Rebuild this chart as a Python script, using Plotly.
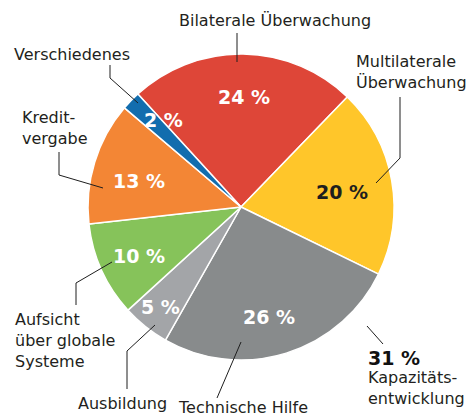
import math
import plotly.graph_objects as go

# ---- data ----
categories = ["Bilaterale Überwachung", "Multilaterale Überwachung", "Technische Hilfe",
              "Ausbildung", "Aufsicht über globale Systeme", "Kreditvergabe", "Verschiedenes"]
values = [24, 20, 26, 5, 10, 13, 2]
pct_labels = ["24 %", "20 %", "26 %", "5 %", "10 %", "13 %", "2 %"]
group_value = "31 %"
group_label = "Kapazitäts-<br>entwicklung"

# ---- style ----
colors = ["#DE4638", "#FFC62A", "#888B8C", "#A3A5A8", "#86C35A", "#F38635", "#126DAE"]
pct_colors = ["white", "#1E1E1E", "white", "white", "white", "white", "white"]
rad_frac = [0.72, 0.67, 0.74, 0.84, 0.74, 0.69, 0.76]
ang_tweak = [1, 1.5, 3, 0, -1, -3, 4.5]
ROT = -42.4

W, H = 474, 417
OFF = 8  # browser body margin
CX, CY, R = 241, 207, 153
FONT = "DejaVu Sans, Arial, sans-serif"
TXT = "#231F20"


def px(x):
    return (x - OFF) / W


def py(y):
    return 1 - (y - OFF) / H


fig = go.Figure(go.Pie(
    labels=categories, values=values, sort=False, direction="clockwise",
    rotation=ROT, textinfo="none", hoverinfo="label+percent",
    marker=dict(colors=colors, line=dict(color="white", width=1.5)),
    domain=dict(x=[px(CX - R), px(CX + R)], y=[py(CY + R), py(CY - R)]),
    showlegend=False,
))

annotations = []
shapes = []

# percentage labels placed at slice mid-angles (computed from values)
total = sum(values)
cum = 0
for v, t, c, f, tw in zip(values, pct_labels, pct_colors, rad_frac, ang_tweak):
    mid = ROT + (cum + v / 2) / total * 360 + tw
    cum += v
    a = math.radians(mid)
    x = CX + f * R * math.sin(a)
    y = CY - f * R * math.cos(a)
    annotations.append(dict(x=px(x), y=py(y), xref="paper", yref="paper",
                            text=f"<b>{t}</b>", showarrow=False,
                            font=dict(family=FONT, size=19, color=c),
                            xanchor="center", yanchor="middle"))

# outside labels
outer = [
    ("Bilaterale Überwachung", 275, 20, "center"),
    ("Multilaterale<br>Überwachung", 354, 72, "left"),
    ("Verschiedenes", 12, 55, "left"),
    ("Kredit-<br>vergabe", 20, 128, "left"),
    ("Aufsicht<br>über globale<br>Systeme", 13, 340, "left"),
    ("Ausbildung", 122, 403, "center"),
    ("Technische Hilfe", 243, 407, "center"),
]
for t, x, y, anc in outer:
    annotations.append(dict(x=px(x), y=py(y), xref="paper", yref="paper", text=t,
                            showarrow=False, align="left",
                            font=dict(family=FONT, size=16, color=TXT),
                            xanchor=anc, yanchor="middle"))

annotations.append(dict(x=px(366), y=py(358), xref="paper", yref="paper",
                        text=f"<b>{group_value}</b>", showarrow=False,
                        font=dict(family=FONT, size=19, color="#111111"),
                        xanchor="left", yanchor="middle"))
annotations.append(dict(x=px(366), y=py(388), xref="paper", yref="paper",
                        text=group_label, showarrow=False, align="left",
                        font=dict(family=FONT, size=16, color=TXT),
                        xanchor="left", yanchor="middle"))

# leader lines
leaders = [
    [(237, 33), (237, 62)],
    [(400, 97), (400, 158), (376, 183)],
    [(110, 65), (110, 78), (138, 103)],
    [(59, 152), (59, 175), (103, 188)],
    [(76, 305), (76, 283), (112, 262)],
    [(127, 389), (127, 351), (155, 325)],
    [(217, 398), (241, 342)],
    [(367, 326), (383, 344)],
]
for pts in leaders:
    path = "M " + " L ".join(f"{px(x)},{py(y)}" for x, y in pts)
    shapes.append(dict(type="path", path=path, xref="paper", yref="paper",
                       line=dict(color="#1E1E1E", width=1)))

fig.update_layout(
    width=W, height=H, margin=dict(l=0, r=0, t=0, b=0),
    paper_bgcolor="white", plot_bgcolor="white",
    annotations=annotations, shapes=shapes,
)

fig.write_html("out.html")
